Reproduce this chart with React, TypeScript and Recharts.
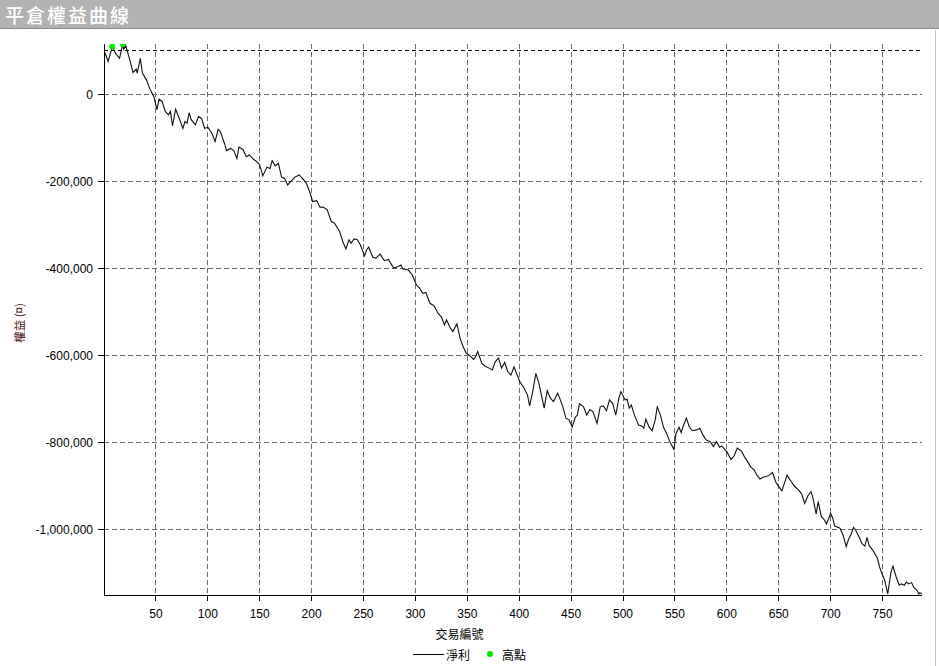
import React from "react";
import {
  LineChart,
  Line,
  XAxis,
  YAxis,
  CartesianGrid,
  ReferenceLine,
  Legend,
} from "recharts";

// trade number (x) for each sampled point
const trades = [
  1, 4, 8, 11, 15, 18, 19, 21, 24, 28,
  31, 32, 35, 37, 41, 44, 48, 51, 53, 56,
  59, 62, 64, 66, 69, 73, 76, 78, 80, 82,
  84, 88, 91, 94, 97, 100, 104, 107, 110, 112,
  116, 118, 122, 125, 128, 130, 134, 137, 140, 144,
  147, 150, 153, 157, 160, 162, 165, 168, 171, 174,
  177, 180, 184, 188, 192, 195, 198, 201, 205, 208,
  211, 215, 219, 222, 227, 230, 233, 236, 238, 241,
  244, 247, 251, 253, 255, 259, 262, 266, 270, 274,
  279, 283, 286, 288, 293, 297, 301, 304, 307, 310,
  314, 318, 322, 325, 328, 330, 333, 336, 340, 343,
  346, 349, 352, 356, 358, 360, 364, 367, 371, 374,
  377, 380, 383, 386, 389, 392, 395, 398, 401, 404,
  408, 410, 413, 416, 419, 421, 424, 427, 430, 433,
  437, 439, 442, 445, 448, 451, 454, 456, 458, 462,
  465, 468, 471, 475, 478, 481, 484, 487, 490, 493,
  496, 498, 502, 504, 506, 508, 511, 515, 518, 520,
  522, 525, 528, 531, 533, 536, 539, 542, 545, 549,
  551, 554, 556, 558, 561, 564, 567, 571, 574, 577,
  580, 584, 587, 590, 593, 595, 600, 604, 607, 610,
  614, 617, 620, 623, 626, 629, 632, 635, 638, 641,
  644, 647, 649, 653, 656, 658, 661, 665, 669, 672,
  675, 678, 681, 683, 686, 688, 691, 694, 696, 700,
  702, 704, 709, 712, 715, 717, 720, 722, 724, 728,
  730, 733, 735, 737, 741, 745, 747, 749, 752, 755,
  758, 760, 763, 766, 768, 771, 773, 775, 778, 780,
  783, 785, 786, 788,
];

// closed-trade equity, in thousands
const equityK = [
  97, 77, 111, 96, 84, 117, 105, 113, 88, 51,
  59, 50, 84, 50, 34, 15, -4, -34, -10, -15,
  -38, -46, -38, -71, -33, -57, -77, -61, -65, -41,
  -57, -69, -50, -54, -77, -74, -88, -107, -79, -84,
  -111, -128, -123, -128, -146, -120, -126, -142, -138, -148,
  -153, -161, -186, -166, -169, -151, -163, -157, -189, -192,
  -207, -199, -189, -184, -194, -203, -222, -245, -243, -258,
  -258, -264, -291, -295, -314, -337, -354, -333, -341, -331,
  -333, -345, -370, -356, -350, -373, -375, -366, -381, -378,
  -398, -395, -391, -400, -402, -414, -437, -444, -456, -454,
  -479, -485, -503, -510, -529, -517, -533, -544, -526, -559,
  -579, -594, -598, -608, -602, -590, -617, -623, -628, -632,
  -613, -605, -628, -615, -636, -644, -625, -644, -661, -671,
  -690, -715, -682, -640, -663, -686, -720, -680, -697, -705,
  -686, -697, -717, -743, -747, -763, -741, -736, -710, -717,
  -736, -723, -728, -755, -717, -715, -726, -701, -709, -736,
  -697, -682, -701, -700, -720, -713, -736, -759, -761, -766,
  -745, -763, -772, -747, -717, -736, -764, -778, -797, -815,
  -778, -764, -776, -761, -743, -764, -772, -770, -766, -782,
  -793, -797, -808, -797, -810, -807, -820, -838, -830, -812,
  -818, -832, -843, -855, -861, -874, -883, -879, -877, -874,
  -868, -889, -897, -910, -889, -874, -885, -899, -908, -917,
  -939, -922, -912, -927, -963, -935, -969, -977, -986, -962,
  -973, -991, -996, -1012, -1038, -1023, -1008, -994, -1000, -1019,
  -1031, -1037, -1017, -1035, -1048, -1065, -1084, -1098, -1115, -1147,
  -1098, -1083, -1107, -1127, -1124, -1127, -1120, -1124, -1121, -1132,
  -1138, -1147, -1144, -1147,
];

// trades where a new equity high was made
const highTrades = [8, 18];

// dashed high-water reference level
const highLevel = 101000;

const xTicks = [50, 100, 150, 200, 250, 300, 350, 400, 450, 500, 550, 600, 650, 700, 750];
const yTicks = [0, -200000, -400000, -600000, -800000, -1000000];

const title = "平倉權益曲線";
const xLabel = "交易編號";
const yLabel = "權益 (¤)";
const seriesName = "淨利";
const highName = "高點";

const data = trades.map((t, i) => ({
  t,
  equity: equityK[i] * 1000,
  high: highTrades.includes(t) ? equityK[i] * 1000 : null,
}));

const FONT = "'Liberation Sans', Arial, 'Noto Sans CJK TC', sans-serif";
const CJK = "'Noto Sans CJK TC', 'Liberation Sans', sans-serif";

const fmt = (v: number) => v.toLocaleString("en-US");

const LegendContent = () => (
  <div
    style={{
      width: 939,
      height: 24,
      display: "flex",
      justifyContent: "center",
      alignItems: "center",
      fontFamily: CJK,
      fontSize: 12,
      color: "#000",
    }}
  >
    <svg width={32} height={10} style={{ marginRight: 1 }}>
      <line x1={0} y1={5.5} x2={31} y2={5.5} stroke="#000" strokeWidth={1} />
    </svg>
    <span style={{ marginRight: 16 }}>{seriesName}</span>
    <svg width={12} height={10} style={{ marginRight: 4 }}>
      <circle cx={4} cy={5} r={3} fill="#00e600" />
    </svg>
    <span>{highName}</span>
  </div>
);

export default function App() {
  return (
    <div
      style={{
        position: "absolute",
        left: 0,
        top: 0,
        width: 939,
        height: 666,
        background: "#fff",
        overflow: "hidden",
      }}
    >
      <div style={{ position: "absolute", left: 0, top: 0 }}>
        <LineChart
          width={939}
          height={666}
          data={data}
          margin={{ top: 44, right: 17, bottom: 0, left: 0 }}
        >
          <CartesianGrid
            stroke="#6a6a6a"
            strokeDasharray="5 3"
            shapeRendering="crispEdges"
            horizontalValues={yTicks}
            verticalValues={xTicks}
          />
          <XAxis
            type="number"
            dataKey="t"
            domain={[0, 788]}
            ticks={xTicks}
            allowDataOverflow
            height={47}
            tickSize={6}
            tickMargin={8}
            axisLine={{ stroke: "#000", shapeRendering: "crispEdges" }}
            tickLine={{ stroke: "#000", shapeRendering: "crispEdges" }}
            tick={{ fill: "#000", fontSize: 12, fontFamily: FONT }}
            label={{
              content: () => (
                <text
                  x={459.5}
                  y={639}
                  textAnchor="middle"
                  fontSize={12}
                  fontFamily={CJK}
                  fill="#000"
                >
                  {xLabel}
                </text>
              ),
            }}
          />
          <YAxis
            type="number"
            domain={[-1149500, 117000]}
            ticks={yTicks}
            allowDataOverflow
            width={104}
            tickSize={6}
            tickMargin={5}
            tickFormatter={fmt}
            axisLine={{ stroke: "#000", shapeRendering: "crispEdges" }}
            tickLine={{ stroke: "#000", shapeRendering: "crispEdges" }}
            tick={{ fill: "#000", fontSize: 12, fontFamily: FONT }}
            label={{
              content: () => (
                <text
                  transform="translate(24,323) rotate(-90)"
                  textAnchor="middle"
                  fontSize={11.5}
                  fontFamily={CJK}
                  fill="#4a1414"
                >
                  {yLabel}
                </text>
              ),
            }}
          />
          <ReferenceLine
            y={highLevel}
            stroke="#000"
            strokeDasharray="4 3"
            shapeRendering="crispEdges"
          />
          <Line
            type="linear"
            dataKey="equity"
            stroke="#111"
            strokeWidth={1.1}
            dot={false}
            isAnimationActive={false}
          />
          <Line
            type="linear"
            dataKey="high"
            stroke="none"
            dot={{ r: 3, fill: "#00e600", stroke: "none" }}
            activeDot={false}
            isAnimationActive={false}
          />
          <Legend
            verticalAlign="bottom"
            align="left"
            height={24}
            wrapperStyle={{ left: 0, width: 939 }}
            content={() => <LegendContent />}
          />
        </LineChart>
      </div>
      <div
        style={{
          position: "absolute",
          left: 0,
          top: 0,
          width: 939,
          height: 29,
          background: "#b3b3b3",
          borderBottom: "1px solid #8a8a8a",
          display: "flex",
          alignItems: "center",
          paddingLeft: 5,
          boxSizing: "border-box",
          color: "#fff",
          fontFamily: CJK,
          fontSize: 19,
          fontWeight: 500,
          letterSpacing: 2,
        }}
      >
        {title}
      </div>
      <div
        style={{
          position: "absolute",
          left: 935,
          top: 30,
          width: 1,
          height: 636,
          background: "#c4c4c4",
        }}
      />
    </div>
  );
}
